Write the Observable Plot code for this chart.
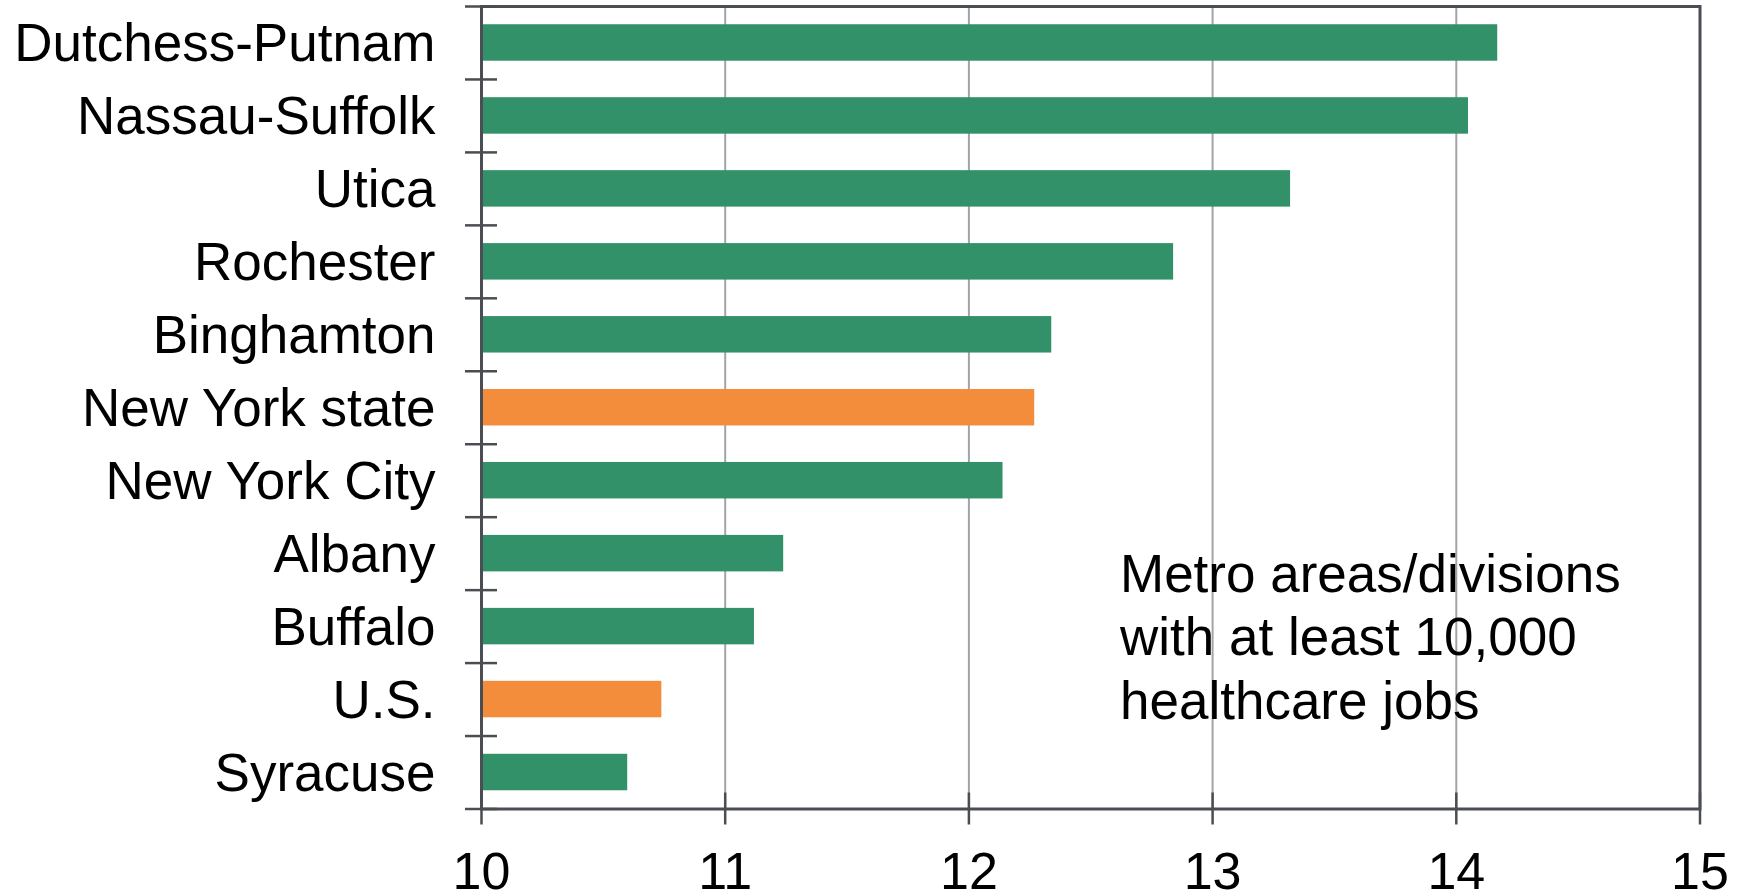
<!DOCTYPE html>
<html>
<head>
<meta charset="utf-8">
<script src="https://cdn.jsdelivr.net/npm/d3@7"></script>
<script src="https://cdn.jsdelivr.net/npm/@observablehq/plot@0.6"></script>
<style>
  html, body { margin: 0; padding: 0; background: #fff; overflow: hidden; }
  #chart svg { display: block; }
</style>
</head>
<body>
<div id="chart"></div>
<script>
// Data
const categories = ["Dutchess-Putnam", "Nassau-Suffolk", "Utica", "Rochester", "Binghamton",
  "New York state", "New York City", "Albany", "Buffalo", "U.S.", "Syracuse"];
const values = [14.17, 14.05, 13.32, 12.84, 12.34, 12.27, 12.14, 11.24, 11.12, 10.74, 10.60];
const kinds = ["metro", "metro", "metro", "metro", "metro", "aggregate", "metro", "metro", "metro", "aggregate", "metro"];
const xTicks = [10, 11, 12, 13, 14, 15];
const gridTicks = [11, 12, 13, 14];
const xDomain = [10, 15];
const noteText = "Metro areas/divisions\nwith at least 10,000\nhealthcare jobs";
const noteX = 12.62;
const noteRow = "Albany";

const data = categories.map((c, i) => ({name: c, value: values[i], kind: kinds[i]}));

const W = 1746, H = 894;
const mt = 6, mb = 85.5, ml = 481, mr = 46.5;
const step = (H - mt - mb) / categories.length;
const axisColor = "#4a4d52";

const plot = Plot.plot({
  width: W,
  height: H,
  marginTop: mt,
  marginBottom: mb,
  marginLeft: ml,
  marginRight: mr,
  style: {fontFamily: "'Liberation Sans', Arial, Helvetica, sans-serif", fontSize: "52px", color: "black", background: "white"},
  x: {domain: xDomain, ticks: xTicks, label: null, round: false},
  y: {domain: categories, paddingInner: 0.5, paddingOuter: 0.25, label: null, round: false},
  color: {domain: ["metro", "aggregate"], range: ["#33916a", "#f48d3b"]},
  marks: [
    Plot.ruleX(gridTicks, {stroke: "#a2a4a7", strokeWidth: 2}),
    Plot.barX(data, {x1: () => xDomain[0], x2: "value", y: "name", fill: "kind"}),
    Plot.frame({stroke: axisColor, strokeWidth: 3}),
    // category boundary ticks
    Plot.ruleY(categories, {y: d => d, x1: () => xDomain[0], x2: () => xDomain[0], insetLeft: -16, insetRight: -16, dy: -step / 2, stroke: axisColor, strokeWidth: 2.5}),
    Plot.ruleY(categories.slice(-1), {y: d => d, x1: () => xDomain[0], x2: () => xDomain[0], insetLeft: -16, insetRight: -16, dy: step / 2, stroke: axisColor, strokeWidth: 2.5}),
    Plot.axisY({label: null, tickSize: 0, tickPadding: 46, fontSize: 53, fill: "black", dy: 1.5}),
    Plot.axisX({label: null, ticks: xTicks, tickFormat: d => String(d), tickSize: 32, dy: -16, tickPadding: 27, stroke: axisColor, strokeWidth: 2.5, fill: "black", fontSize: 52}),
    Plot.text([noteText], {x: () => noteX, y: () => noteRow, text: d => d, textAnchor: "start", lineAnchor: "top", lineHeight: 1.2, fontSize: 53, fill: "black", dy: -7})
  ]
});
document.getElementById("chart").appendChild(plot);
</script>
</body>
</html>
